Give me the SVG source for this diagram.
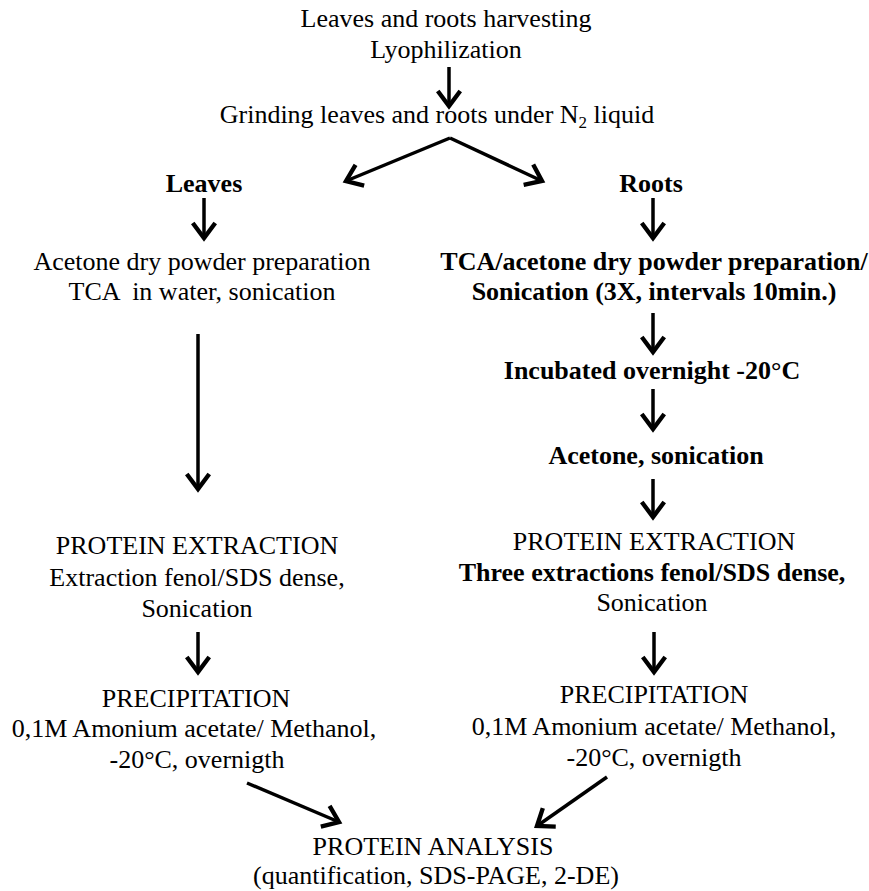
<svg xmlns="http://www.w3.org/2000/svg" width="869" height="891" viewBox="0 0 869 891">
<defs>
<style>
text{font-family:'Liberation Serif','Tinos','DejaVu Serif',serif;font-size:26px;fill:#000;text-anchor:middle}
.b{font-weight:bold}
.c line{stroke:#000;stroke-width:3.5;marker-end:url(#ah)}
</style>
<marker id="ah" markerUnits="userSpaceOnUse" markerWidth="30" markerHeight="30" viewBox="-16 -12 20 24" refX="0" refY="0" orient="auto">
<path d="M-12,-9 L0,0 L-12,9" fill="none" stroke="#000" stroke-width="3.5"/>
</marker>
</defs>
<rect width="869" height="891" fill="#fff"/>
<g font-family="Liberation Serif, DejaVu Serif, serif">
<g id="start"><text x="446" y="27">Leaves and roots harvesting</text><text x="446" y="58">Lyophilization</text></g>
<g id="grinding"><text x="437" y="123">Grinding leaves and roots under N<tspan font-size="17" dy="5">2</tspan><tspan dy="-5"> liquid</tspan></text></g>
<g id="leaves"><text class="b" x="204" y="192">Leaves</text></g>
<g id="roots"><text class="b" x="651" y="192">Roots</text></g>
<g id="leaf-powder"><text x="202" y="270">Acetone dry powder preparation</text><text x="202" y="300" xml:space="preserve">TCA  in water, sonication</text></g>
<g id="root-powder"><text class="b" x="654" y="270">TCA/acetone dry powder preparation/</text><text class="b" x="654" y="300">Sonication (3X, intervals 10min.)</text></g>
<g id="incubated"><text class="b" x="652" y="379">Incubated overnight -20°C</text></g>
<g id="acetone"><text class="b" x="656" y="464">Acetone, sonication</text></g>
<g id="leaf-extraction"><text x="197" y="554">PROTEIN EXTRACTION</text><text x="197" y="586">Extraction fenol/SDS dense,</text><text x="197" y="617">Sonication</text></g>
<g id="root-extraction"><text x="654" y="550">PROTEIN EXTRACTION</text><text class="b" x="652" y="581">Three extractions fenol/SDS dense,</text><text x="652" y="611">Sonication</text></g>
<g id="leaf-precipitation"><text x="196" y="707">PRECIPITATION</text><text x="194" y="737">0,1M Amonium acetate/ Methanol,</text><text x="197" y="768">-20°C, overnigth</text></g>
<g id="root-precipitation"><text x="654" y="703">PRECIPITATION</text><text x="654" y="735">0,1M Amonium acetate/ Methanol,</text><text x="654" y="766">-20°C, overnigth</text></g>
<g id="analysis"><text x="433" y="855">PROTEIN ANALYSIS</text><text x="436" y="884">(quantification, SDS-PAGE, 2-DE)</text></g>
</g>
<g id="connectors" class="c">
<line x1="449" y1="67" x2="449" y2="106"/>
<line x1="450" y1="138" x2="346" y2="181"/>
<line x1="450" y1="138" x2="542" y2="181"/>
<line x1="204" y1="198" x2="204" y2="238"/>
<line x1="653" y1="198" x2="653" y2="238"/>
<line x1="198" y1="334" x2="198" y2="489"/>
<line x1="653" y1="313" x2="653" y2="352"/>
<line x1="653" y1="389" x2="653" y2="429"/>
<line x1="653" y1="479" x2="653" y2="517"/>
<line x1="198" y1="632" x2="198" y2="672"/>
<line x1="654" y1="632" x2="654" y2="672"/>
<line x1="247" y1="783" x2="339" y2="822"/>
<line x1="607" y1="777" x2="537" y2="826"/>
</g>
</svg>
